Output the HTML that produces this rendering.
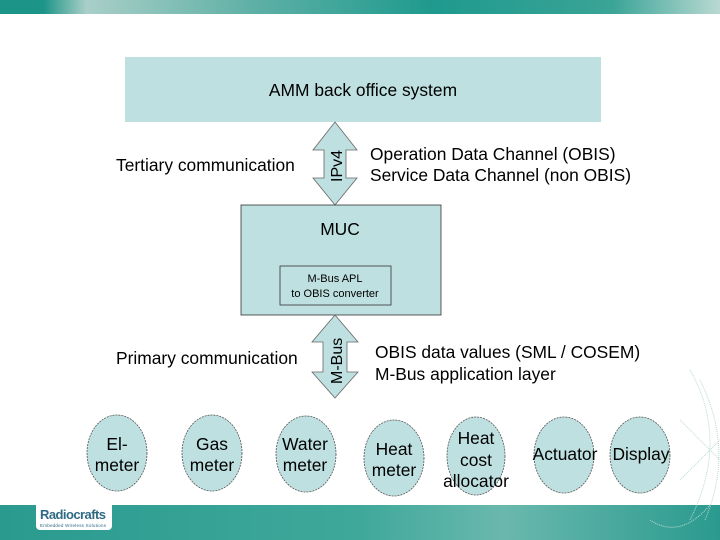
<!DOCTYPE html>
<html><head><style>
body{margin:0;width:720px;height:540px;overflow:hidden;background:#fff}
svg{display:block}
text{font-family:"Liberation Sans",Arial,sans-serif;fill:#000}
</style></head><body>
<svg width="720" height="540" viewBox="0 0 720 540">
<defs>
<linearGradient id="tg" x1="0" x2="1" y1="0" y2="0">
<stop offset="0" stop-color="#1c9488"/><stop offset="0.06" stop-color="#1c9488"/>
<stop offset="0.12" stop-color="#a9cfc8"/><stop offset="0.35" stop-color="#5fb0a6"/>
<stop offset="0.6" stop-color="#1f9a8e"/><stop offset="0.85" stop-color="#3aa497"/>
<stop offset="1" stop-color="#b9d9d2"/></linearGradient>
<linearGradient id="bg" x1="0" x2="1" y1="0" y2="0">
<stop offset="0" stop-color="#2a9a8f"/><stop offset="0.5" stop-color="#3fa89b"/>
<stop offset="0.7" stop-color="#6ab8ad"/><stop offset="1" stop-color="#2a9a8f"/></linearGradient>
</defs>
<rect x="0" y="0" width="720" height="14" fill="url(#tg)"/>
<rect x="0" y="505" width="720" height="35" fill="url(#bg)"/>
<rect x="36" y="500" width="76" height="30" rx="4" fill="#fff"/>
<text x="40" y="519" font-size="13" font-weight="bold" style="fill:#2f6a84" textLength="66">Radiocrafts</text>
<text x="40" y="527" font-size="4.5" style="fill:#2f6a84" textLength="66">Embedded Wireless Solutions</text>
<g fill="none" stroke="#b9d8d2" stroke-width="1" stroke-dasharray="1,1">
<path d="M690 370 Q730 440 690 520"/><path d="M700 380 Q735 450 705 520"/>
<path d="M650 520 Q680 540 710 505"/><path d="M680 420 L720 460"/><path d="M680 480 L720 440"/>
</g>
<rect x="125" y="57" width="476" height="65" fill="#bfe0e1"/>
<text x="363" y="96" font-size="17.4" text-anchor="middle">AMM back office system</text>
<polygon points="335,122 357,150 346,150 346,178 357,178 335,205 313,178 324,178 324,150 313,150" fill="#bfe0e1" stroke="#666" stroke-width="0.8"/>
<text transform="translate(342,182) rotate(-90)" font-size="16">IPv4</text>
<text x="116" y="171" font-size="17.4">Tertiary communication</text>
<text x="370" y="160" font-size="17.4">Operation Data Channel (OBIS)</text>
<text x="370" y="181" font-size="17.4">Service Data Channel (non OBIS)</text>
<rect x="241" y="205" width="200" height="110" fill="#bfe0e1" stroke="#333" stroke-width="0.8"/>
<text x="340" y="235" font-size="17.4" text-anchor="middle">MUC</text>
<rect x="280" y="266" width="111" height="39" fill="#bfe0e1" stroke="#333" stroke-width="0.8"/>
<text x="335" y="282" font-size="11" text-anchor="middle">M-Bus APL</text>
<text x="335" y="297" font-size="11" text-anchor="middle">to OBIS converter</text>
<polygon points="335,315 358,342 347,342 347,372 358,372 335,398 312,372 323,372 323,342 312,342" fill="#bfe0e1" stroke="#666" stroke-width="0.8"/>
<text transform="translate(342,384) rotate(-90)" font-size="16">M-Bus</text>
<text x="116" y="364" font-size="17.4">Primary communication</text>
<text x="375" y="358" font-size="17.4">OBIS data values (SML / COSEM)</text>
<text x="375" y="380" font-size="17.4">M-Bus application layer</text>
<g fill="#bfe0e1" stroke="#555" stroke-width="0.8" stroke-dasharray="2,1">
<ellipse cx="117" cy="453" rx="30" ry="38"/>
<ellipse cx="212" cy="453" rx="30" ry="38"/>
<ellipse cx="306" cy="454" rx="30" ry="38"/>
<ellipse cx="394" cy="458" rx="30" ry="38"/>
<ellipse cx="476" cy="456" rx="29" ry="39"/>
<ellipse cx="564" cy="455" rx="30" ry="38"/>
<ellipse cx="640" cy="455" rx="30" ry="38"/>
</g>
<g font-size="17.4" text-anchor="middle">
<text x="117" y="450">El-</text><text x="117" y="471">meter</text>
<text x="212" y="450">Gas</text><text x="212" y="471">meter</text>
<text x="305" y="450">Water</text><text x="305" y="471">meter</text>
<text x="394" y="455">Heat</text><text x="394" y="476">meter</text>
<text x="476" y="444">Heat</text><text x="476" y="466">cost</text><text x="476" y="487">allocator</text>
<text x="565" y="460">Actuator</text>
<text x="641" y="460">Display</text>
</g>
</svg>
</body></html>
